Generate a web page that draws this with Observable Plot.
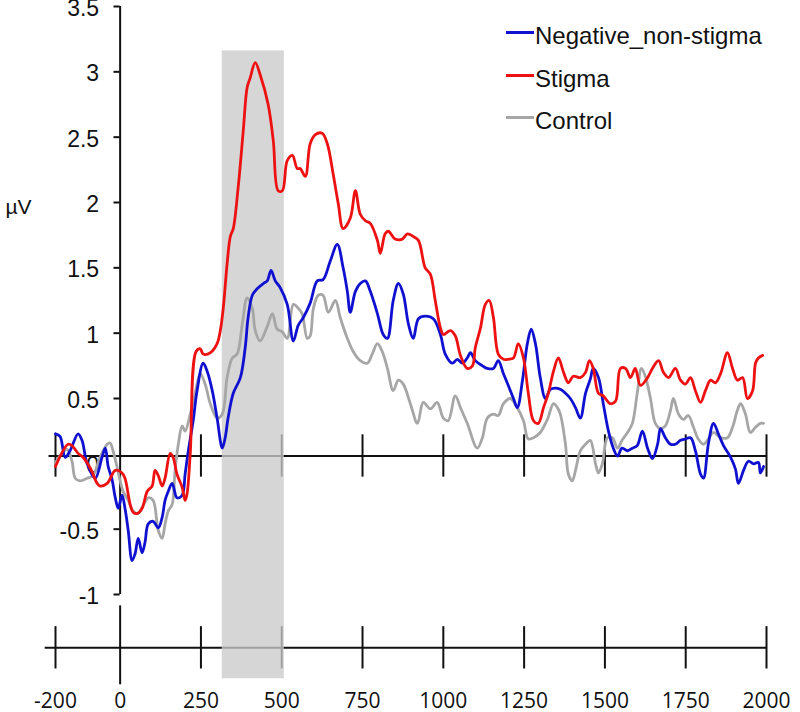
<!DOCTYPE html>
<html>
<head>
<meta charset="utf-8">
<script src="https://cdn.jsdelivr.net/npm/d3@7"></script>
<script src="https://cdn.jsdelivr.net/npm/@observablehq/plot@0.6"></script>
<style>
  html, body { margin: 0; padding: 0; background: #fff; }
  #wrap { position: relative; width: 800px; height: 712px; }
  .leg { position: absolute; font-family: "Liberation Sans", Arial, sans-serif; font-size: 24px; color: #111; white-space: nowrap; line-height: 1; }
  .sw { position: absolute; height: 3px; width: 28px; }
</style>
</head>
<body>
<div id="wrap"></div>
<script>
// ---------- data ----------
const seriesNames = ["Negative_non-stigma", "Stigma", "Control"];
const seriesColors = ["#1010d0", "#ee1111", "#a6a6a6"];

const stigmaTime = [-200,-161,-149,-130,-115,-93,-71,-62,-40,-15,6,15,31,40,53,68,84,99,108,118,130,139,155,164,176,192,201,207,217,235,248,257,279,300,310,319,331,341,350,365,381,393,402,418,433,458,474,489,502,517,533,548,557,573,588,604,625,641,659,675,690,712,728,743,759,774,796,805,820,830,851,873,889,907,923,944,960,975,991,1000,1022,1037,1053,1074,1090,1099,1115,1130,1142,1155,1170,1186,1201,1217,1232,1248,1263,1279,1294,1310,1325,1341,1356,1372,1387,1402,1424,1440,1452,1464,1480,1495,1517,1533,1548,1564,1579,1594,1610,1632,1647,1666,1681,1697,1718,1734,1749,1765,1780,1796,1811,1827,1842,1858,1879,1895,1910,1926,1941,1957,1966,1975,1988];
const stigmaUV = [-0.02,0.15,0.14,0.08,0.05,-0.03,-0.15,-0.17,-0.15,-0.05,-0.07,-0.11,-0.31,-0.37,-0.38,-0.34,-0.21,-0.17,-0.05,-0.09,-0.17,-0.11,0.08,0.05,-0.08,-0.18,-0.28,-0.23,0.08,0.86,0.88,0.84,0.85,0.92,1.02,1.19,1.53,1.74,1.80,2.11,2.55,2.88,2.95,3.07,2.98,2.75,2.47,2.09,2.09,2.32,2.36,2.26,2.26,2.20,2.45,2.52,2.53,2.45,2.22,1.99,1.80,1.88,2.09,1.91,1.86,1.84,1.71,1.61,1.76,1.78,1.72,1.72,1.76,1.74,1.71,1.50,1.45,1.25,1.04,0.99,1.02,0.98,0.83,0.73,0.75,0.89,1.04,1.22,1.25,1.12,0.84,0.80,0.80,0.81,0.92,0.81,0.54,0.33,0.31,0.43,0.54,0.71,0.81,0.70,0.62,0.67,0.66,0.70,0.79,0.73,0.54,0.52,0.46,0.48,0.73,0.73,0.66,0.73,0.60,0.66,0.73,0.79,0.70,0.66,0.73,0.64,0.61,0.66,0.56,0.47,0.56,0.64,0.62,0.69,0.85,0.73,0.64,0.66,0.50,0.56,0.77,0.81,0.83];

const negTime = [-200,-186,-170,-155,-130,-118,-102,-77,-56,-46,-37,-25,-15,-6,6,15,25,37,46,56,68,77,87,102,118,130,139,149,161,176,192,201,211,226,238,257,269,285,300,316,325,334,350,372,387,396,409,424,443,455,467,480,495,517,536,551,567,588,610,628,650,672,690,703,712,728,743,759,774,796,814,827,845,861,876,892,907,923,944,969,991,1006,1028,1043,1059,1074,1084,1099,1121,1136,1155,1170,1186,1201,1217,1229,1245,1260,1272,1285,1300,1316,1331,1347,1362,1378,1393,1409,1424,1440,1455,1464,1480,1495,1511,1526,1539,1553,1570,1585,1600,1616,1632,1647,1663,1672,1687,1703,1718,1734,1749,1765,1780,1796,1805,1820,1836,1851,1867,1889,1904,1913,1929,1944,1960,1975,1981,1991];
const negUV = [0.23,0.21,0.05,0.10,0.23,0.18,0,-0.11,0.05,0.12,-0.02,-0.12,-0.26,-0.34,-0.24,-0.34,-0.51,-0.74,-0.69,-0.57,-0.68,-0.60,-0.46,-0.44,-0.49,-0.41,-0.28,-0.21,-0.15,-0.26,-0.24,-0.08,0.10,0.33,0.56,0.77,0.71,0.56,0.35,0.12,0.20,0.35,0.54,0.66,0.89,1.12,1.29,1.34,1.38,1.40,1.48,1.40,1.35,1.22,0.94,1.06,1.12,1.23,1.40,1.41,1.55,1.68,1.50,1.32,1.16,1.32,1.38,1.40,1.32,1.15,0.99,0.96,1.25,1.38,1.30,1.07,0.96,1.11,1.13,1.11,0.99,0.84,0.77,0.80,0.77,0.81,0.85,0.79,0.75,0.73,0.73,0.79,0.69,0.60,0.50,0.43,0.64,0.92,1.03,0.92,0.66,0.50,0.57,0.58,0.57,0.54,0.50,0.43,0.35,0.54,0.65,0.73,0.66,0.46,0.25,0.12,0.06,0.12,0.10,0.12,0.14,0.25,0.12,0.04,0.15,0.27,0.20,0.15,0.15,0.18,0.19,0.20,0.10,-0.08,-0.11,0.15,0.31,0.23,0.14,0.05,-0.04,-0.15,-0.05,0.02,0,0.01,-0.07,-0.02];

const controlTime = [-200,-180,-164,-149,-139,-124,-102,-84,-62,-40,-31,-22,-9,0,9,25,40,56,71,87,102,118,130,139,149,161,170,180,192,201,217,232,248,263,279,300,316,331,347,362,378,393,409,418,433,455,471,486,502,517,536,551,563,579,588,598,613,628,644,666,681,703,721,743,765,780,796,811,827,845,861,876,898,920,938,960,981,1000,1015,1037,1053,1074,1105,1121,1136,1155,1170,1186,1207,1229,1248,1263,1279,1300,1322,1341,1353,1362,1378,1387,1399,1409,1424,1440,1455,1471,1480,1492,1508,1523,1539,1553,1570,1585,1600,1613,1625,1641,1656,1672,1687,1703,1712,1728,1743,1758,1774,1789,1805,1820,1836,1858,1879,1895,1910,1920,1935,1950,1966,1981,1991];
const controlUV = [0.01,0.08,0.11,0.02,-0.11,-0.13,-0.11,-0.09,0.05,0.15,0.16,0.10,-0.03,-0.13,-0.21,-0.28,-0.36,-0.38,-0.32,-0.26,-0.28,-0.51,-0.57,-0.46,-0.36,-0.31,-0.05,0.15,0.29,0.25,0.38,0.54,0.69,0.61,0.46,0.35,0.38,0.66,0.81,0.84,1.07,1.27,1.19,1.02,0.94,1.05,1.15,1.03,1.01,0.96,1.22,1.19,1.15,0.96,0.98,1.19,1.29,1.29,1.16,1.25,1.12,0.96,0.86,0.79,0.77,0.84,0.92,0.86,0.73,0.56,0.64,0.61,0.46,0.31,0.47,0.42,0.47,0.35,0.33,0.52,0.43,0.31,0.12,0.20,0.35,0.38,0.37,0.46,0.50,0.43,0.33,0.19,0.20,0.24,0.34,0.46,0.43,0.38,0.15,-0.08,-0.13,-0.05,0.10,0.15,0.18,0,-0.07,0,0.20,0.20,0.12,0.18,0.24,0.31,0.54,0.73,0.67,0.50,0.31,0.27,0.29,0.41,0.50,0.38,0.34,0.37,0.28,0.19,0.15,0.19,0.24,0.20,0.20,0.28,0.41,0.46,0.38,0.24,0.28,0.31,0.31];

const xTickValues = [-200, 0, 250, 500, 750, 1000, 1250, 1500, 1750, 2000];
const xTickLabels = ["-200", "0", "250", "500", "750", "1000", "1250", "1500", "1750", "2000"];
const yTickValues = [-1, -0.5, 0, 0.5, 1, 1.5, 2, 2.5, 3, 3.5];
const yTickLabels = ["-1", "-0.5", "0", "0.5", "1", "1.5", "2", "2.5", "3", "3.5"];
const window_ms = [316, 508];     // shaded analysis window
const window_uv = [-1.645, 3.16]; // vertical extent of shading
const upperAxisY = 0.06;          // where the upper time line crosses
const lowerAxisY = -1.408;        // the detached time axis below
const yLabel = "µV";

// ---------- build ----------
function rows(name, t, v) { return t.map((x, i) => ({series: name, t: x, v: v[i]})); }
const data = [
  ...rows("Control", controlTime, controlUV),
  ...rows("Negative_non-stigma", negTime, negUV),
  ...rows("Stigma", stigmaTime, stigmaUV)
];
const colorOf = Object.fromEntries(seriesNames.map((n, i) => [n, seriesColors[i]]));

const axisFont = '"Liberation Sans", Arial, sans-serif';
const xFont = '"Open Sans", "Liberation Sans", sans-serif';
const tickHalf = 0.162;
const ink = "#111";

const chart = Plot.plot({
  width: 800,
  height: 712,
  marginLeft: 55,
  marginRight: 34,
  marginTop: 6,
  marginBottom: 118,
  x: {domain: [-200, 2000], axis: null},
  y: {domain: [-1, 3.5], axis: null},
  style: {background: "white", overflow: "visible"},
  marks: [
    // upper time line with crossing ticks
    Plot.ruleY([upperAxisY], {x1: -220, x2: 2003, stroke: ink, strokeWidth: 2}),
    Plot.ruleX(xTickValues.filter(d => d !== 0), {x: d => d, y1: upperAxisY - tickHalf, y2: upperAxisY + tickHalf, stroke: ink, strokeWidth: 2}),
    // y axis
    Plot.ruleX([0], {y1: -1, y2: 3.5, stroke: ink, strokeWidth: 2}),
    Plot.ruleY(yTickValues.filter(d => d !== 0), {y: d => d, x1: -19, x2: 0, stroke: ink, strokeWidth: 2}),
    Plot.text(yTickValues, {x: 0, y: d => d, text: (d, i) => yTickLabels[i], textAnchor: "end", dx: -21, dy: 2, fontSize: 23, fontFamily: axisFont, fill: ink}),
    Plot.text([yLabel], {frameAnchor: "left", y: 1.96, text: d => d, textAnchor: "start", dx: -50, fontSize: 21, fontFamily: axisFont, fill: ink}),
    // detached bottom time axis
    Plot.ruleY([lowerAxisY], {x1: -232, x2: 2000, stroke: ink, strokeWidth: 2}),
    Plot.ruleX(xTickValues.filter(d => d !== 0), {x: d => d, y1: lowerAxisY - tickHalf, y2: lowerAxisY + tickHalf, stroke: ink, strokeWidth: 2}),
    Plot.ruleX([0], {y1: lowerAxisY - 0.283, y2: lowerAxisY + 0.321, stroke: ink, strokeWidth: 2}),
    Plot.text(xTickValues, {x: d => d, y: lowerAxisY, text: (d, i) => xTickLabels[i], dy: 53, fontSize: 21, fontFamily: xFont, fill: ink}),
    // shaded window
    Plot.rect([0], {x1: window_ms[0], x2: window_ms[1], y1: window_uv[0], y2: window_uv[1], fill: "#cbcbcb", fillOpacity: 0.78}),
    // waveforms
    Plot.line(data, {x: "t", y: "v", z: "series", stroke: d => colorOf[d.series], strokeWidth: 2.8, curve: "catmull-rom"})
  ]
});

const wrap = document.getElementById("wrap");
wrap.appendChild(chart);

// legend (top-right)
const legTop = [32, 75, 117];
seriesNames.forEach((n, i) => {
  const sw = document.createElement("div");
  sw.className = "sw";
  sw.style.left = "506px";
  sw.style.top = (legTop[i] - 1) + "px";
  sw.style.background = seriesColors[i];
  wrap.appendChild(sw);
  const lb = document.createElement("div");
  lb.className = "leg";
  lb.style.left = "535px";
  lb.style.top = (legTop[i] - 8) + "px";
  lb.textContent = n;
  wrap.appendChild(lb);
});
</script>
</body>
</html>
